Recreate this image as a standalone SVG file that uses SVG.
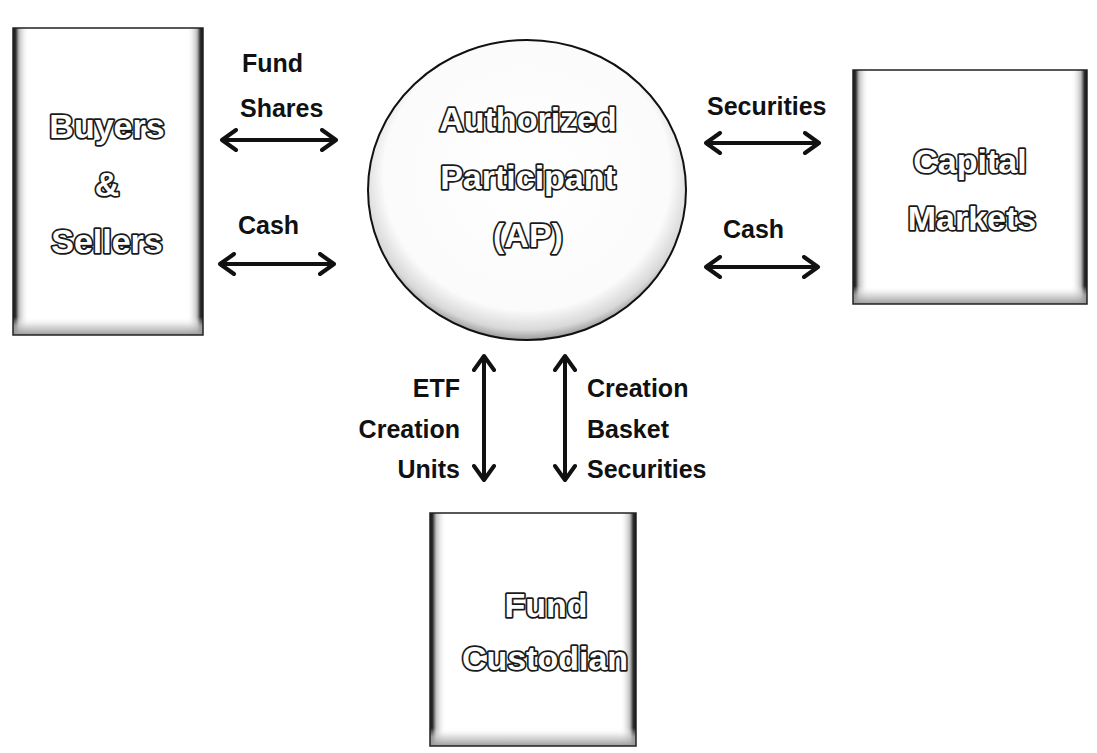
<svg xmlns="http://www.w3.org/2000/svg" width="1097" height="753" viewBox="0 0 1097 753">
  <style>
    .lbl { font-family: "Liberation Sans", Arial, sans-serif; font-weight: bold; font-size: 25px; fill: #111; }
    .node-text { font-family: "Liberation Sans", Arial, sans-serif; font-weight: bold; font-size: 34px; fill: #fff; stroke: #1a1a1a; stroke-width: 3.5; paint-order: stroke; stroke-linejoin: round; text-anchor: middle; }
    .edge { stroke: #111; stroke-width: 4; fill: none; marker-start: url(#head); marker-end: url(#head); }
    .frame { fill: none; stroke: #222; stroke-width: 1.5; }
  </style>
  <defs>
    <marker id="head" viewBox="0 0 20 24" refX="17" refY="12" markerWidth="20" markerHeight="24" markerUnits="userSpaceOnUse" orient="auto-start-reverse">
      <path d="M3,2 L17,12 L3,22" fill="none" stroke="#111" stroke-width="4" stroke-linecap="round" stroke-linejoin="round"/>
    </marker>
    <!-- bevel shading for the box edges -->
    <linearGradient id="edgeL" x1="0" y1="0" x2="1" y2="0">
      <stop offset="0" stop-color="#111"/>
      <stop offset="0.18" stop-color="#333"/>
      <stop offset="0.4" stop-color="#999" stop-opacity="0.6"/>
      <stop offset="1" stop-color="#fff" stop-opacity="0"/>
    </linearGradient>
    <linearGradient id="edgeR" x1="1" y1="0" x2="0" y2="0">
      <stop offset="0" stop-color="#111"/>
      <stop offset="0.18" stop-color="#333"/>
      <stop offset="0.4" stop-color="#999" stop-opacity="0.6"/>
      <stop offset="1" stop-color="#fff" stop-opacity="0"/>
    </linearGradient>
    <linearGradient id="edgeB" x1="0" y1="1" x2="0" y2="0">
      <stop offset="0" stop-color="#999"/>
      <stop offset="0.5" stop-color="#ccc" stop-opacity="0.7"/>
      <stop offset="1" stop-color="#fff" stop-opacity="0"/>
    </linearGradient>
    <radialGradient id="ball" cx="0.5" cy="0.45" r="0.55">
      <stop offset="0" stop-color="#fff"/>
      <stop offset="0.82" stop-color="#fbfbfb"/>
      <stop offset="0.94" stop-color="#d8d8d8"/>
      <stop offset="1" stop-color="#999"/>
    </radialGradient>
  </defs>

  <rect width="1097" height="753" fill="#fff"/>

  <!-- Buyers & Sellers -->
  <g id="buyers-sellers">
    <rect x="13" y="28" width="190" height="307" fill="#fff"/>
    <rect x="13" y="28" width="16" height="307" fill="url(#edgeL)"/>
    <rect x="187" y="28" width="16" height="307" fill="url(#edgeR)"/>
    <rect x="13" y="317" width="190" height="18" fill="url(#edgeB)"/>
    <rect x="13" y="28" width="190" height="307" class="frame"/>
    <text class="node-text" x="107" y="138">Buyers</text>
    <text class="node-text" x="107" y="196">&amp;</text>
    <text class="node-text" x="107" y="253">Sellers</text>
  </g>

  <!-- Authorized Participant -->
  <g id="authorized-participant">
    <ellipse cx="527" cy="190" rx="159" ry="150" fill="url(#ball)" stroke="#111" stroke-width="2"/>
    <text class="node-text" x="528" y="131">Authorized</text>
    <text class="node-text" x="528" y="189">Participant</text>
    <text class="node-text" x="528" y="247">(AP)</text>
  </g>

  <!-- Capital Markets -->
  <g id="capital-markets">
    <rect x="853" y="70" width="234" height="234" fill="#fff"/>
    <rect x="853" y="70" width="16" height="234" fill="url(#edgeL)"/>
    <rect x="1071" y="70" width="16" height="234" fill="url(#edgeR)"/>
    <rect x="853" y="286" width="234" height="18" fill="url(#edgeB)"/>
    <rect x="853" y="70" width="234" height="234" class="frame"/>
    <text class="node-text" x="970" y="173">Capital</text>
    <text class="node-text" x="972" y="230">Markets</text>
  </g>

  <!-- Fund Custodian -->
  <g id="fund-custodian">
    <rect x="430" y="513" width="206" height="233" fill="#fff"/>
    <rect x="430" y="513" width="16" height="233" fill="url(#edgeL)"/>
    <rect x="620" y="513" width="16" height="233" fill="url(#edgeR)"/>
    <rect x="430" y="728" width="206" height="18" fill="url(#edgeB)"/>
    <rect x="430" y="513" width="206" height="233" class="frame"/>
    <text class="node-text" x="546" y="617">Fund</text>
    <text class="node-text" x="545" y="670">Custodian</text>
  </g>

  <!-- flows between nodes -->
  <g id="connectors">
    <line class="edge" x1="222" y1="140" x2="336" y2="140"/>
    <line class="edge" x1="220" y1="264" x2="334" y2="264"/>
    <line class="edge" x1="706" y1="143" x2="819" y2="143"/>
    <line class="edge" x1="706" y1="267" x2="818" y2="267"/>
    <line class="edge" x1="484" y1="356" x2="484" y2="480"/>
    <line class="edge" x1="565" y1="356" x2="565" y2="480"/>

    <text class="lbl" x="242" y="72">Fund</text>
    <text class="lbl" x="240" y="117">Shares</text>
    <text class="lbl" x="238" y="234">Cash</text>
    <text class="lbl" x="707" y="115">Securities</text>
    <text class="lbl" x="723" y="238">Cash</text>
    <text class="lbl" x="460" y="397" text-anchor="end">ETF</text>
    <text class="lbl" x="460" y="438" text-anchor="end">Creation</text>
    <text class="lbl" x="460" y="478" text-anchor="end">Units</text>
    <text class="lbl" x="587" y="397">Creation</text>
    <text class="lbl" x="587" y="438">Basket</text>
    <text class="lbl" x="587" y="478">Securities</text>
  </g>
</svg>
